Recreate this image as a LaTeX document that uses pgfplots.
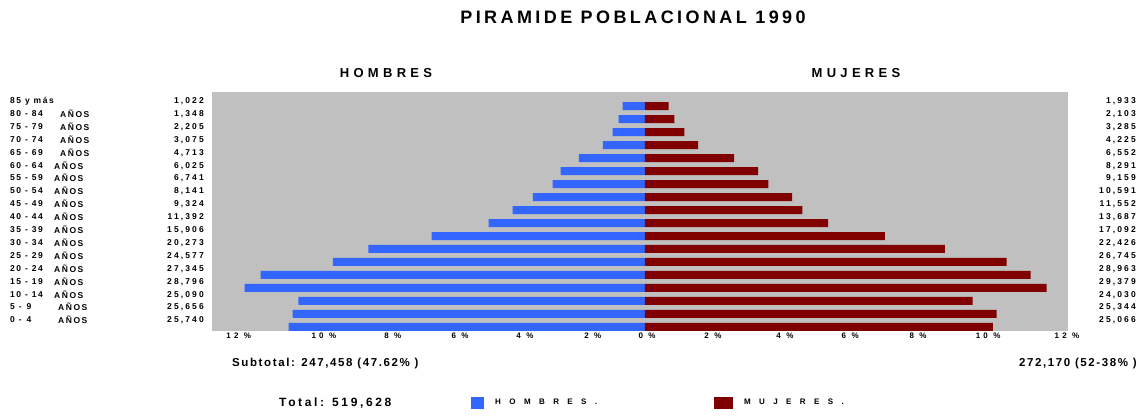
\documentclass[border=0pt]{standalone}
\usepackage{pgfplots}
\pgfplotsset{compat=1.18}
\usepackage{fontspec}
\setmainfont{Liberation Sans}
\newcommand\ls[1]{\addfontfeature{LetterSpace=#1}}
\newcommand\fs[1]{\fontsize{#1}{#1}\selectfont\bfseries}
\definecolor{hblue}{HTML}{3366FF}
\definecolor{mred}{HTML}{800000}
\definecolor{bg}{HTML}{C0C0C0}
\begin{document}
\begin{tikzpicture}[x=1pt,y=-1pt]
\useasboundingbox[fill=white] (0,0) rectangle (1140,420);
\begin{axis}[
  at={(212pt,-331pt)}, anchor=south west,
  scale only axis, width=856pt, height=239pt,
  xmin=-12.62, xmax=12.33, ymin=-0.31, ymax=18.08,
  axis background/.style={fill=bg},
  axis line style={draw=none},
  ytick=\empty,
  xtick={-11.84,-9.36,-7.35,-5.39,-3.50,-1.52,0.06,1.98,4.08,5.98,7.96,10.0,12.3},
  xticklabels={12 \%,10 \%,8 \%,6 \%,4 \%,2 \%,0 \%,2 \%,4 \%,6 \%,8 \%,10 \%,12 \%},
  major tick length=0pt,
  xtick style={draw=none},
  xticklabel style={font=\fs{8}\ls{40}, inner sep=1.5pt},
  xbar, bar width=8pt, bar shift=0pt,
  legend style={at={(rel axis cs:0.3026,-0.301)}, anchor=west, draw=none, fill=none,
    inner sep=0pt, legend columns=2, font=\fs{8}\ls{105},
    nodes={inner sep=0pt},
    /tikz/every odd column/.append style={column sep=11pt},
    /tikz/every even column/.append style={column sep=117pt}},
  legend cell align=left,
]
% HOMBRES (negative, % of row)
\addplot[fill=hblue, draw=none,
  legend image code/.code={\fill[hblue] (0pt,-6pt) rectangle (13pt,6pt);}]
  coordinates {
  (-10.39,0) (-10.27,1) (-10.10,2) (-11.67,3) (-11.20,4) (-9.10,5)
  (-8.06,6) (-6.22,7) (-4.56,8) (-3.86,9) (-3.27,10) (-2.69,11)
  (-2.46,12) (-1.93,13) (-1.23,14) (-0.94,15) (-0.77,16) (-0.65,17)
};
\addlegendentry{HOMBRES.}
% MUJERES
\addplot[fill=mred, draw=none,
  legend image code/.code={\fill[mred] (0pt,-6pt) rectangle (19pt,6pt);}]
  coordinates {
  (10.14,0) (10.25,1) (9.55,2) (11.71,3) (11.24,4) (10.54,5)
  (8.74,6) (6.99,7) (5.34,8) (4.59,9) (4.29,10) (3.60,11)
  (3.30,12) (2.60,13) (1.55,14) (1.15,15) (0.86,16) (0.69,17)
};
\addlegendentry{MUJERES.}
\end{axis}

\node[font=\fs{18}\ls{19}] at (633,17) {PIRAMIDE POBLACIONAL 1990};
\node[font=\fs{13}\ls{33}] at (386,73) {HOMBRES};
\node[font=\fs{13}\ls{33}] at (856,73) {MUJERES};

\foreach \y/\rng/\ax/\an/\m/\w in {
  101/{85 y más}/60/{}/{1,022}/{1,933},
  114/{80 - 84}/60/{AÑOS}/{1,348}/{2,103},
  127/{75 - 79}/60/{AÑOS}/{2,205}/{3,285},
  140/{70 - 74}/60/{AÑOS}/{3,075}/{4,225},
  153/{65 - 69}/60/{AÑOS}/{4,713}/{6,552},
  166/{60 - 64}/54/{AÑOS}/{6,025}/{8,291},
  178/{55 - 59}/54/{AÑOS}/{6,741}/{9,159},
  191/{50 - 54}/54/{AÑOS}/{8,141}/{10,591},
  204/{45 - 49}/54/{AÑOS}/{9,324}/{11,552},
  217/{40 - 44}/54/{AÑOS}/{11,392}/{13,687},
  230/{35 - 39}/54/{AÑOS}/{15,906}/{17,092},
  243/{30 - 34}/54/{AÑOS}/{20,273}/{22,426},
  256/{25 - 29}/54/{AÑOS}/{24,577}/{26,745},
  269/{20 - 24}/54/{AÑOS}/{27,345}/{28,963},
  282/{15 - 19}/54/{AÑOS}/{28,796}/{29,379},
  295/{10 - 14}/54/{AÑOS}/{25,090}/{24,030},
  307/{5 -\hspace{5pt}9}/58/{AÑOS}/{25,656}/{25,344},
  320/{0 -\hspace{5pt}4}/58/{AÑOS}/{25,740}/{25,066}} {
  \node[font=\fs{8.5}\ls{18}, anchor=west, inner sep=0pt] at (10,\y) {\rng};
  \node[font=\fs{8.5}\ls{18}, anchor=west, inner sep=0pt] at (\ax,\y) {\an};
  \node[font=\fs{8.5}\ls{25}, anchor=east, inner sep=0pt] at (204,\y) {\m};
  \node[font=\fs{8.5}\ls{25}, anchor=east, inner sep=0pt] at (1136,\y) {\w};
}

\node[font=\fs{11.5}\ls{14}, anchor=west, inner sep=0pt] at (232,364) {Subtotal: 247,458 (47.62\% )};
\node[font=\fs{11.5}\ls{14}, anchor=east, inner sep=0pt] at (1137,364) {272,170 (52-38\% )};
\node[font=\fs{12}\ls{22}, anchor=west, inner sep=0pt] at (279,403) {Total: 519,628};
\end{tikzpicture}
\end{document}
